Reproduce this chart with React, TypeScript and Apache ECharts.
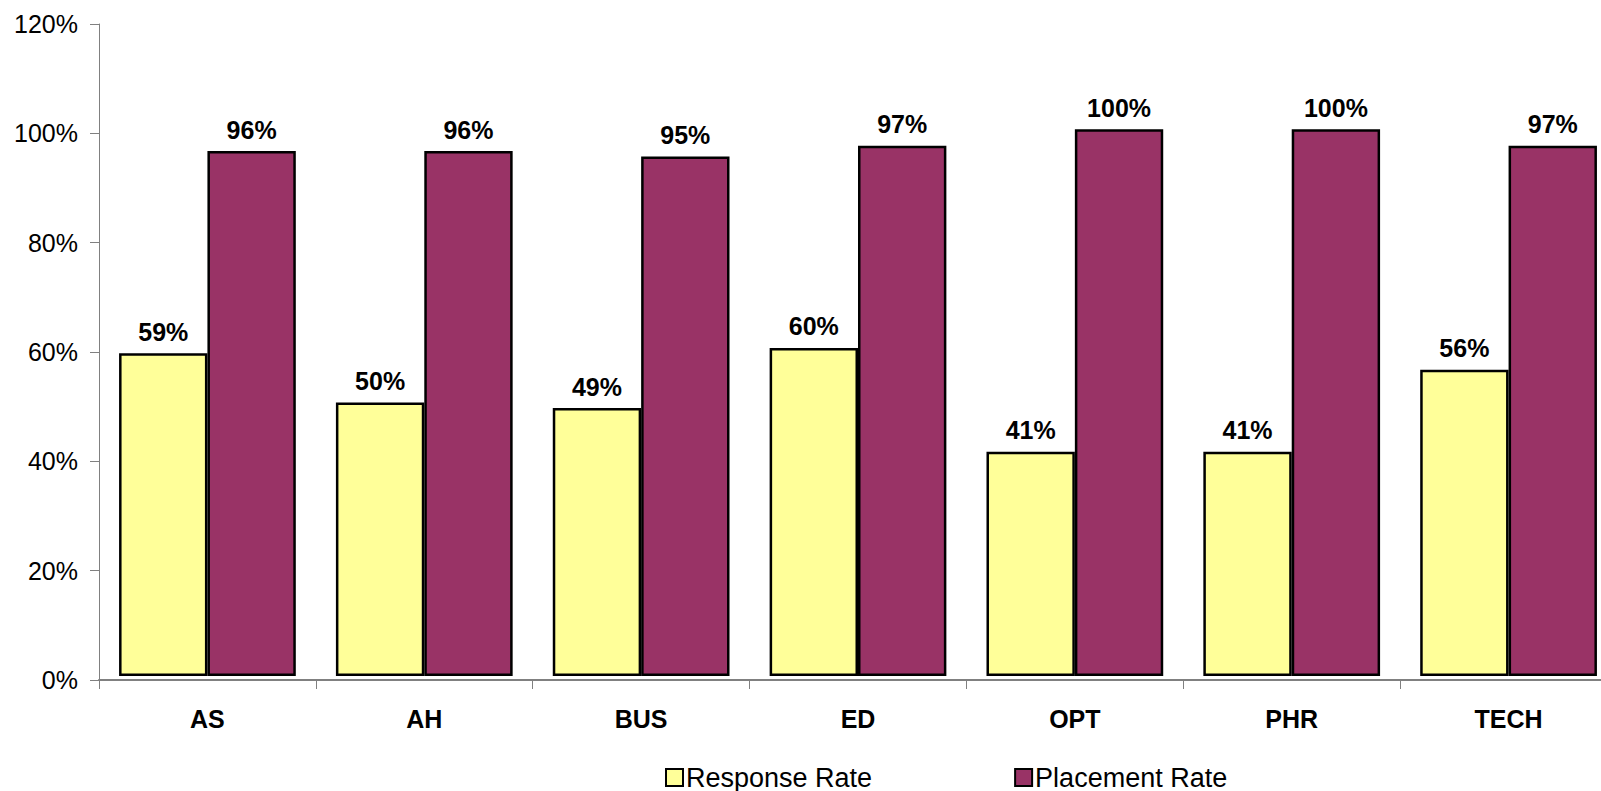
import React, { useEffect, useRef } from "react";
import * as echarts from "echarts";

const categories = ["AS", "AH", "BUS", "ED", "OPT", "PHR", "TECH"];
const responseRate = [59, 50, 49, 60, 41, 41, 56];
const placementRate = [96, 96, 95, 97, 100, 100, 97];
const yTicks = [0, 20, 40, 60, 80, 100, 120];

const FONT = "'Liberation Sans', Arial, sans-serif";

export default function App() {
  const ref = useRef<HTMLDivElement>(null);
  useEffect(() => {
    if (!ref.current) return;
    const chart = echarts.init(ref.current, undefined, { renderer: "svg" });
    const labelCfg = {
      show: true,
      position: "top",
      distance: 9,
      formatter: (p: any) => p.value + "%",
      fontFamily: FONT,
      fontSize: 25,
      fontWeight: "bold",
      color: "#000",
    };
    chart.setOption({
      animation: false,
      backgroundColor: "#fff",
      textStyle: { fontFamily: FONT },
      grid: { left: 99, top: 24, width: 1518, height: 656, containLabel: false },
      legend: {
        top: 764,
        left: 665,
        padding: 0,
        itemGap: 142,
        itemWidth: 17,
        itemHeight: 17,
        icon: "rect",
        textStyle: { fontFamily: FONT, fontSize: 27, color: "#000", padding: [0, 0, 0, -2] },
        data: ["Response Rate", "Placement Rate"],
      },
      xAxis: {
        type: "category",
        data: categories,
        axisLine: { show: true, lineStyle: { color: "#808080", width: 2 } },
        axisTick: { show: true, length: 9, lineStyle: { color: "#808080", width: 1 } },
        axisLabel: { fontFamily: FONT, fontSize: 25, fontWeight: "bold", color: "#000", margin: 26 },
        splitLine: { show: false },
      },
      yAxis: [
        {
          type: "value",
          min: yTicks[0],
          max: yTicks[yTicks.length - 1],
          interval: 20,
          axisLine: { show: true, lineStyle: { color: "#808080", width: 1 } },
          axisTick: { show: true, length: 9, lineStyle: { color: "#808080" } },
          axisLabel: { fontFamily: FONT, fontSize: 25, color: "#000", margin: 21, formatter: "{value}%" },
          splitLine: { show: false },
        },
        {
          type: "value",
          show: false,
          min: -0.75,
          max: 119.25,
          splitLine: { show: false },
        },
      ],
      series: [
        {
          name: "Response Rate",
          type: "bar",
          yAxisIndex: 1,
          data: responseRate,
          barGap: "0%",
          barCategoryGap: "18.5%",
          itemStyle: { color: "#FFFF99", borderColor: "#000", borderWidth: 2.5 },
          label: labelCfg,
        },
        {
          name: "Placement Rate",
          type: "bar",
          yAxisIndex: 1,
          data: placementRate,
          barGap: "0%",
          barCategoryGap: "18.5%",
          itemStyle: { color: "#993366", borderColor: "#000", borderWidth: 2.5 },
          label: labelCfg,
        },
      ],
    });
    return () => chart.dispose();
  }, []);
  return (
    <div
      style={{
        position: "absolute",
        left: 0,
        top: 0,
        width: 1601,
        height: 791,
        overflow: "hidden",
        background: "#fff",
      }}
    >
      <div ref={ref} style={{ width: 1660, height: 791 }} />
    </div>
  );
}
